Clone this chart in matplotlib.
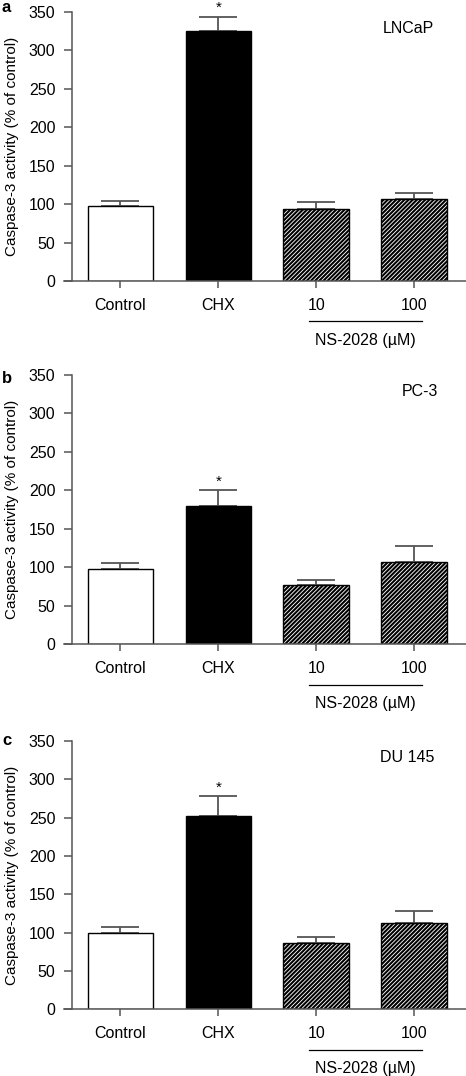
import numpy as np
import matplotlib
matplotlib.use("Agg")
import matplotlib.pyplot as plt

plt.rcParams['font.family'] = ['Liberation Sans', 'DejaVu Sans']
plt.rcParams['hatch.linewidth'] = 1.5

# data (% of control)
groups = ["Control", "CHX", "10", "100"]
panel_letters = ["a", "b", "c"]
cell_lines = ["LNCaP", "PC-3", "DU 145"]
lncap_mean = [98, 325, 94, 107]
lncap_err = [6, 19, 9, 8]
pc3_mean = [98, 180, 77, 107]
pc3_err = [8, 20, 7, 21]
du145_mean = [100, 252, 87, 112]
du145_err = [8, 26, 7, 16]
yticks = [0, 50, 100, 150, 200, 250, 300, 350]
ylabel = "Caspase-3 activity (% of control)"
bracket_label = "NS-2028 (\u00b5M)"

means = [lncap_mean, pc3_mean, du145_mean]
errs = [lncap_err, pc3_err, du145_err]
name_x = [2.94, 3.06, 2.93]

fig = plt.figure(figsize=(4.66, 10.76), dpi=100)
W, H = 466., 1076.
# axes boxes in pixels: (top of 350, position of 0)
boxes = [(12, 281), (375, 644.3), (741, 1009.3)]
letter_base = [12, 383, 745]
axis_col = "#555555"
face_cols = ["white", "black", "white", "white"]
hatches = [None, None, "////////", "////////"]
fs = 11.5

for k in range(3):
    top, bot = boxes[k]
    ax = fig.add_axes([72 / W, 1 - bot / H, (W - 72) / W, (bot - top) / H])
    x = np.arange(len(groups))
    bars = ax.bar(x, means[k], width=0.67, color=face_cols, edgecolor="black",
                  linewidth=1.0, zorder=2)
    for b, h in zip(bars, hatches):
        if h:
            b.set_hatch(h)
    ax.errorbar(x, means[k], yerr=[np.zeros(4), errs[k]], fmt="none",
                ecolor=axis_col, elinewidth=1.3, capsize=14, capthick=1.3, zorder=1)
    # star over CHX
    ax.annotate("*", xy=(1, means[k][1] + errs[k][1]), xytext=(0, 1),
                textcoords="offset points", ha="center", va="bottom",
                fontsize=11, annotation_clip=False)
    ax.set_xlim(-0.495, 3.53)
    ax.set_ylim(0, 350)
    ax.set_yticks(yticks)
    ax.set_xticks(x)
    ax.set_xticklabels(groups)
    ax.tick_params(axis="y", direction="out", length=6, width=1.1, color=axis_col,
                   pad=6, labelsize=fs)
    ax.tick_params(axis="x", direction="out", length=5, width=1.1, color=axis_col,
                   pad=7, labelsize=fs)
    for s in ["top", "right", "bottom"]:
        ax.spines[s].set_visible(False)
    ax.spines["left"].set_color(axis_col)
    ax.spines["left"].set_linewidth(1.1)
    ax.plot([-8 / 394., 1], [0, 0], transform=ax.transAxes, color=axis_col,
            lw=1.1, clip_on=False, zorder=3)
    ax.set_ylabel(ylabel, fontsize=11)
    ax.yaxis.set_label_coords(-0.134, 0.5)
    ax.text(name_x[k], 328, cell_lines[k], ha="center", va="center", fontsize=fs)
    # bracket under NS-2028 doses
    ax.plot([1.93, 3.08], [-52.5, -52.5], color="black", lw=0.9, clip_on=False)
    ax.text(2.505, -77, bracket_label, ha="center", va="center", fontsize=fs)
    fig.text(2 / W, 1 - letter_base[k] / H, panel_letters[k], fontsize=12,
             fontweight="bold", ha="left", va="baseline")

fig.savefig("out.png", dpi=100)
